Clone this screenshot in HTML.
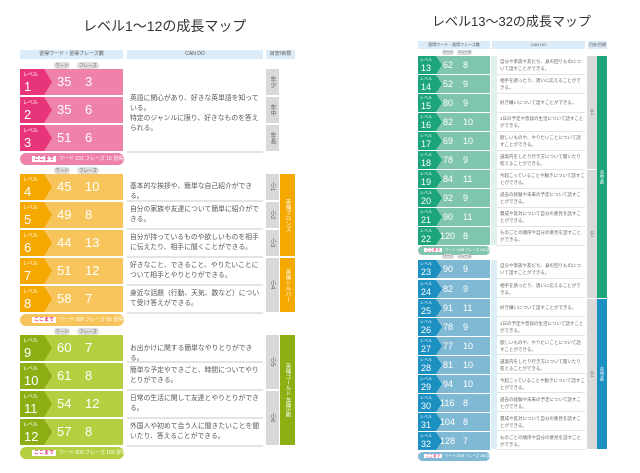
<!DOCTYPE html>
<html><head><meta charset="utf-8"><style>
body{margin:0;width:640px;height:473px;background:#fff;position:relative;overflow:hidden;font-family:"Liberation Sans","Noto Sans CJK JP",sans-serif;color:#555}
div{position:absolute;box-sizing:border-box}
.t{font-size:14px;color:#333;white-space:nowrap}
.h{background:#dcebf8;font-size:5px;color:#555;text-align:center;line-height:9px}
.lv{left:20px;width:103px;height:26px}
.tag{left:0;top:0;width:32px;height:26px;clip-path:polygon(0 0,75% 0,100% 50%,75% 100%,0 100%);color:#fff}
.tag i{position:absolute;left:3px;top:2px;font-size:5px;font-style:normal}
.tag b{position:absolute;left:4px;top:10px;font-size:13px;font-weight:normal}
.n1,.n2{top:5px;font-size:13px;color:#fff}
.n1{left:37px}.n2{left:65px}
.cd{left:130px;width:130px;font-size:6.8px;line-height:10px;color:#555}
.ln{left:127px;width:136px;height:2px;background:#e4e4e4}
.gr{background:#d9d9d9;font-size:6px;color:#666;writing-mode:vertical-rl;display:flex;align-items:center;justify-content:center}
.col{font-size:5.5px;color:#fff;writing-mode:vertical-rl;display:flex;align-items:center;justify-content:center}
.pl{font-size:4.5px;color:#666;background:#ddd;border-radius:4px;height:7px;line-height:7px;text-align:center}
.pill{border-radius:7px;font-size:5px;color:#fff;line-height:12px;white-space:nowrap}
.pill span{background:#fff;color:#e8357a;padding:0 2px;margin:0 3px 0 12px;font-weight:bold}
.pk .tag{background:#e8357a}.pk{background:#ee82ab}
.or .tag{background:#f5a800}.or{background:#f7c55b}
.gn .tag{background:#8cb013}.gn{background:#b4cf40}
.tl .tag{background:#1ca57b}.tl{background:#80c6ae}
.bl .tag{background:#1b90c1}.bl{background:#80b9d3}
.r{left:418px;width:72px;height:18px}
.r .tag{width:24px;height:18px}
.r .tag i{font-size:4px;left:2px;top:1px}
.r .tag b{font-size:9px;top:7px;left:3px}
.r .n1,.r .n2{font-size:9px;top:4px}
.r .n1{left:25px}.r .n2{left:45px}
.rc{left:500px;width:85px;font-size:4.5px;line-height:6.5px;color:#666}
.rl{left:497px;width:88px;height:1px;background:#e4e4e4}
</style></head><body>
<div class="t" style="left:83px;top:16px">レベル1～12の成長マップ</div>
<div class="h" style="left:20px;top:50px;width:103px">習得ワード・習得フレーズ数</div>
<div class="h" style="left:127px;top:50px;width:136px">CAN DO</div>
<div class="h" style="left:266px;top:50px;width:29px">目安/目標</div>

<div class="pl" style="left:54px;top:62px;width:16px">ワード</div><div class="pl" style="left:77px;top:62px;width:22px">フレーズ</div>
<div class="lv pk" style="top:69px"><div class="tag"><i>レベル</i><b>1</b></div><div class="n1">35</div><div class="n2">3</div></div>
<div class="lv pk" style="top:97px"><div class="tag"><i>レベル</i><b>2</b></div><div class="n1">35</div><div class="n2">6</div></div>
<div class="lv pk" style="top:125px"><div class="tag"><i>レベル</i><b>3</b></div><div class="n1">51</div><div class="n2">6</div></div>
<div class="cd" style="top:94px">英語に関心があり、好きな英単語を知っている。<br>特定のジャンルに限り、好きなものを答えられる。</div>
<div class="ln" style="top:151px"></div>
<div class="gr" style="left:266px;top:69px;width:13px;height:26px">年少</div>
<div class="gr" style="left:266px;top:97px;width:13px;height:26px">年中</div>
<div class="gr" style="left:266px;top:125px;width:13px;height:26px">年長</div>
<div class="pill pk" style="left:20px;top:153px;width:104px"><span>ここまで</span>ワード 131 フレーズ 15 習得!</div>

<div class="pl" style="left:54px;top:167px;width:16px">ワード</div><div class="pl" style="left:77px;top:167px;width:22px">フレーズ</div>
<div class="lv or" style="top:174px"><div class="tag"><i>レベル</i><b>4</b></div><div class="n1">45</div><div class="n2">10</div></div>
<div class="lv or" style="top:202px"><div class="tag"><i>レベル</i><b>5</b></div><div class="n1">49</div><div class="n2">8</div></div>
<div class="lv or" style="top:230px"><div class="tag"><i>レベル</i><b>6</b></div><div class="n1">44</div><div class="n2">13</div></div>
<div class="lv or" style="top:258px"><div class="tag"><i>レベル</i><b>7</b></div><div class="n1">51</div><div class="n2">12</div></div>
<div class="lv or" style="top:286px"><div class="tag"><i>レベル</i><b>8</b></div><div class="n1">58</div><div class="n2">7</div></div>
<div class="cd" style="top:182px">基本的な挨拶や、簡単な自己紹介ができる。</div><div class="ln" style="top:200px"></div>
<div class="cd" style="top:205px">自分の家族や友達について簡単に紹介ができる。</div><div class="ln" style="top:228px"></div>
<div class="cd" style="top:233px">自分が持っているものや欲しいものを相手に伝えたり、相手に聞くことができる。</div><div class="ln" style="top:256px"></div>
<div class="cd" style="top:261px">好きなこと、できること、やりたいことについて相手とやりとりができる。</div><div class="ln" style="top:284px"></div>
<div class="cd" style="top:289px">身近な話題（行動、天気、数など）について受け答えができる。</div><div class="ln" style="top:312px"></div>
<div class="gr" style="left:266px;top:174px;width:13px;height:26px">小1</div>
<div class="gr" style="left:266px;top:202px;width:13px;height:26px">小2</div>
<div class="gr" style="left:266px;top:230px;width:13px;height:26px">小3</div>
<div class="gr" style="left:266px;top:258px;width:13px;height:54px">小4</div>
<div class="col" style="left:280px;top:174px;width:15px;height:82px;background:#f5a800">英検ブロンズ</div>
<div class="col" style="left:280px;top:258px;width:15px;height:54px;background:#f5a800">英検シルバー</div>
<div class="pill or" style="left:20px;top:314px;width:104px"><span>ここまで</span>ワード 368 フレーズ 65 習得!</div>

<div class="pl" style="left:54px;top:328px;width:16px">ワード</div><div class="pl" style="left:77px;top:328px;width:22px">フレーズ</div>
<div class="lv gn" style="top:335px"><div class="tag"><i>レベル</i><b>9</b></div><div class="n1">60</div><div class="n2">7</div></div>
<div class="lv gn" style="top:363px"><div class="tag"><i>レベル</i><b>10</b></div><div class="n1">61</div><div class="n2">8</div></div>
<div class="lv gn" style="top:391px"><div class="tag"><i>レベル</i><b>11</b></div><div class="n1">54</div><div class="n2">12</div></div>
<div class="lv gn" style="top:419px"><div class="tag"><i>レベル</i><b>12</b></div><div class="n1">57</div><div class="n2">8</div></div>
<div class="cd" style="top:344px">お出かけに関する簡単なやりとりができる。</div><div class="ln" style="top:361px"></div>
<div class="cd" style="top:366px">簡単な予定やできごと、時間についてやりとりができる。</div><div class="ln" style="top:389px"></div>
<div class="cd" style="top:394px">日常の生活に関して友達とやりとりができる。</div><div class="ln" style="top:417px"></div>
<div class="cd" style="top:422px">外国人や初めて会う人に聞きたいことを聞いたり、答えることができる。</div><div class="ln" style="top:445px"></div>
<div class="gr" style="left:266px;top:335px;width:13px;height:54px">小5</div>
<div class="gr" style="left:266px;top:391px;width:13px;height:54px">小6</div>
<div class="col" style="left:280px;top:335px;width:15px;height:110px;background:#8cb013">英検ゴールド 英検5級</div>
<div class="pill gn" style="left:20px;top:447px;width:104px"><span>ここまで</span>ワード 600 フレーズ 100 習得!</div>

<div class="t" style="left:432px;top:11px;font-size:13px">レベル13～32の成長マップ</div>
<div class="h" style="left:418px;top:41px;width:72px;font-size:4px;line-height:8px">習得ワード・習得フレーズ数</div>
<div class="h" style="left:492px;top:41px;width:93px;font-size:4px;line-height:8px">CAN DO</div>
<div class="h" style="left:588px;top:41px;width:19px;font-size:4px;line-height:8px">目安/目標</div>
<div class="pl" style="left:442px;top:50px;width:12px;font-size:3.5px;height:5px;line-height:5px">ワード</div><div class="pl" style="left:457px;top:50px;width:15px;font-size:3.5px;height:5px;line-height:5px">フレーズ</div>
<div style="left:491px;top:56px;width:6px;height:189px;background:#dff1ea"></div>
<div style="left:491px;top:260px;width:6px;height:189px;background:#dcedf5"></div>

<div class="r tl" style="top:56px"><div class="tag"><i>レベル</i><b>13</b></div><div class="n1">62</div><div class="n2">8</div></div>
<div class="r tl" style="top:75px"><div class="tag"><i>レベル</i><b>14</b></div><div class="n1">52</div><div class="n2">9</div></div>
<div class="r tl" style="top:94px"><div class="tag"><i>レベル</i><b>15</b></div><div class="n1">80</div><div class="n2">9</div></div>
<div class="r tl" style="top:113px"><div class="tag"><i>レベル</i><b>16</b></div><div class="n1">82</div><div class="n2">10</div></div>
<div class="r tl" style="top:132px"><div class="tag"><i>レベル</i><b>17</b></div><div class="n1">69</div><div class="n2">10</div></div>
<div class="r tl" style="top:151px"><div class="tag"><i>レベル</i><b>18</b></div><div class="n1">78</div><div class="n2">9</div></div>
<div class="r tl" style="top:170px"><div class="tag"><i>レベル</i><b>19</b></div><div class="n1">84</div><div class="n2">11</div></div>
<div class="r tl" style="top:189px"><div class="tag"><i>レベル</i><b>20</b></div><div class="n1">92</div><div class="n2">9</div></div>
<div class="r tl" style="top:208px"><div class="tag"><i>レベル</i><b>21</b></div><div class="n1">90</div><div class="n2">11</div></div>
<div class="r tl" style="top:227px"><div class="tag"><i>レベル</i><b>22</b></div><div class="n1" style="left:22px">120</div><div class="n2">8</div></div>
<div class="pill tl" style="left:418px;top:246px;width:72px;height:9px;line-height:9px;font-size:3.5px"><span style="margin-left:6px">ここまで</span>ワード 1408 フレーズ 194 習得!</div>
<div class="pl" style="left:442px;top:254px;width:12px;font-size:3.5px;height:5px;line-height:5px">ワード</div><div class="pl" style="left:457px;top:254px;width:15px;font-size:3.5px;height:5px;line-height:5px">フレーズ</div>

<div class="r bl" style="top:260px"><div class="tag"><i>レベル</i><b>23</b></div><div class="n1">90</div><div class="n2">9</div></div>
<div class="r bl" style="top:280px"><div class="tag"><i>レベル</i><b>24</b></div><div class="n1">82</div><div class="n2">9</div></div>
<div class="r bl" style="top:299px"><div class="tag"><i>レベル</i><b>25</b></div><div class="n1">91</div><div class="n2">11</div></div>
<div class="r bl" style="top:318px"><div class="tag"><i>レベル</i><b>26</b></div><div class="n1">78</div><div class="n2">9</div></div>
<div class="r bl" style="top:337px"><div class="tag"><i>レベル</i><b>27</b></div><div class="n1">77</div><div class="n2">10</div></div>
<div class="r bl" style="top:356px"><div class="tag"><i>レベル</i><b>28</b></div><div class="n1">81</div><div class="n2">10</div></div>
<div class="r bl" style="top:375px"><div class="tag"><i>レベル</i><b>29</b></div><div class="n1">94</div><div class="n2">10</div></div>
<div class="r bl" style="top:394px"><div class="tag"><i>レベル</i><b>30</b></div><div class="n1" style="left:22px">116</div><div class="n2">8</div></div>
<div class="r bl" style="top:413px"><div class="tag"><i>レベル</i><b>31</b></div><div class="n1" style="left:22px">104</div><div class="n2">8</div></div>
<div class="r bl" style="top:432px"><div class="tag"><i>レベル</i><b>32</b></div><div class="n1" style="left:22px">128</div><div class="n2">7</div></div>
<div class="pill bl" style="left:418px;top:452px;width:72px;height:9px;line-height:9px;font-size:3.5px"><span style="margin-left:6px">ここまで</span>ワード 2308 フレーズ 288 習得!</div>

<div class="rc" style="top:59px">自分や家族や友だち、身の回りものについて話すことができる。</div><div class="rl" style="top:74px"></div>
<div class="rc" style="top:78px">相手を誘ったり、誘いに応えることができる。</div><div class="rl" style="top:93px"></div>
<div class="rc" style="top:100px">好き嫌いについて話すことができる。</div><div class="rl" style="top:112px"></div>
<div class="rc" style="top:116px">1日の予定や普段の生活について話すことができる。</div><div class="rl" style="top:131px"></div>
<div class="rc" style="top:135px">欲しいものや、やりたいことについて話すことができる。</div><div class="rl" style="top:150px"></div>
<div class="rc" style="top:154px">道案内をしたり行き方について聞いたり答えることができる。</div><div class="rl" style="top:169px"></div>
<div class="rc" style="top:173px">今起こっていることや動きについて話すことができる。</div><div class="rl" style="top:188px"></div>
<div class="rc" style="top:192px">過去の経験や未来の予定について話すことができる。</div><div class="rl" style="top:207px"></div>
<div class="rc" style="top:211px">賛成や反対について自分の意見を話すことができる。</div><div class="rl" style="top:226px"></div>
<div class="rc" style="top:230px">ものごとの順序や自分の意見を話すことができる。</div><div class="rl" style="top:245px"></div>
<div class="rc" style="top:263px">自分や家族や友だち、身の回りものについて話すことができる。</div><div class="rl" style="top:278px"></div>
<div class="rc" style="top:283px">相手を誘ったり、誘いに応えることができる。</div><div class="rl" style="top:297px"></div>
<div class="rc" style="top:305px">好き嫌いについて話すことができる。</div><div class="rl" style="top:316px"></div>
<div class="rc" style="top:321px">1日の予定や普段の生活について話すことができる。</div><div class="rl" style="top:335px"></div>
<div class="rc" style="top:340px">欲しいものや、やりたいことについて話すことができる。</div><div class="rl" style="top:354px"></div>
<div class="rc" style="top:359px">道案内をしたり行き方について聞いたり答えることができる。</div><div class="rl" style="top:373px"></div>
<div class="rc" style="top:378px">今起こっていることや動きについて話すことができる。</div><div class="rl" style="top:392px"></div>
<div class="rc" style="top:397px">過去の経験や未来の予定について話すことができる。</div><div class="rl" style="top:411px"></div>
<div class="rc" style="top:416px">賛成や反対について自分の意見を話すことができる。</div><div class="rl" style="top:430px"></div>
<div class="rc" style="top:435px">ものごとの順序や自分の意見を話すことができる。</div><div class="rl" style="top:449px"></div>

<div class="gr" style="left:587px;top:56px;width:10px;height:113px;font-size:4px">中1</div>
<div class="gr" style="left:587px;top:170px;width:10px;height:128px;font-size:4px">中2</div>
<div class="gr" style="left:587px;top:299px;width:10px;height:150px;font-size:4px">中3</div>
<div class="col" style="left:597px;top:56px;width:10px;height:242px;background:#1ca57b;font-size:4px">英検4級</div>
<div class="col" style="left:597px;top:299px;width:10px;height:150px;background:#1b90c1;font-size:4px">英検3級</div>
</body></html>
